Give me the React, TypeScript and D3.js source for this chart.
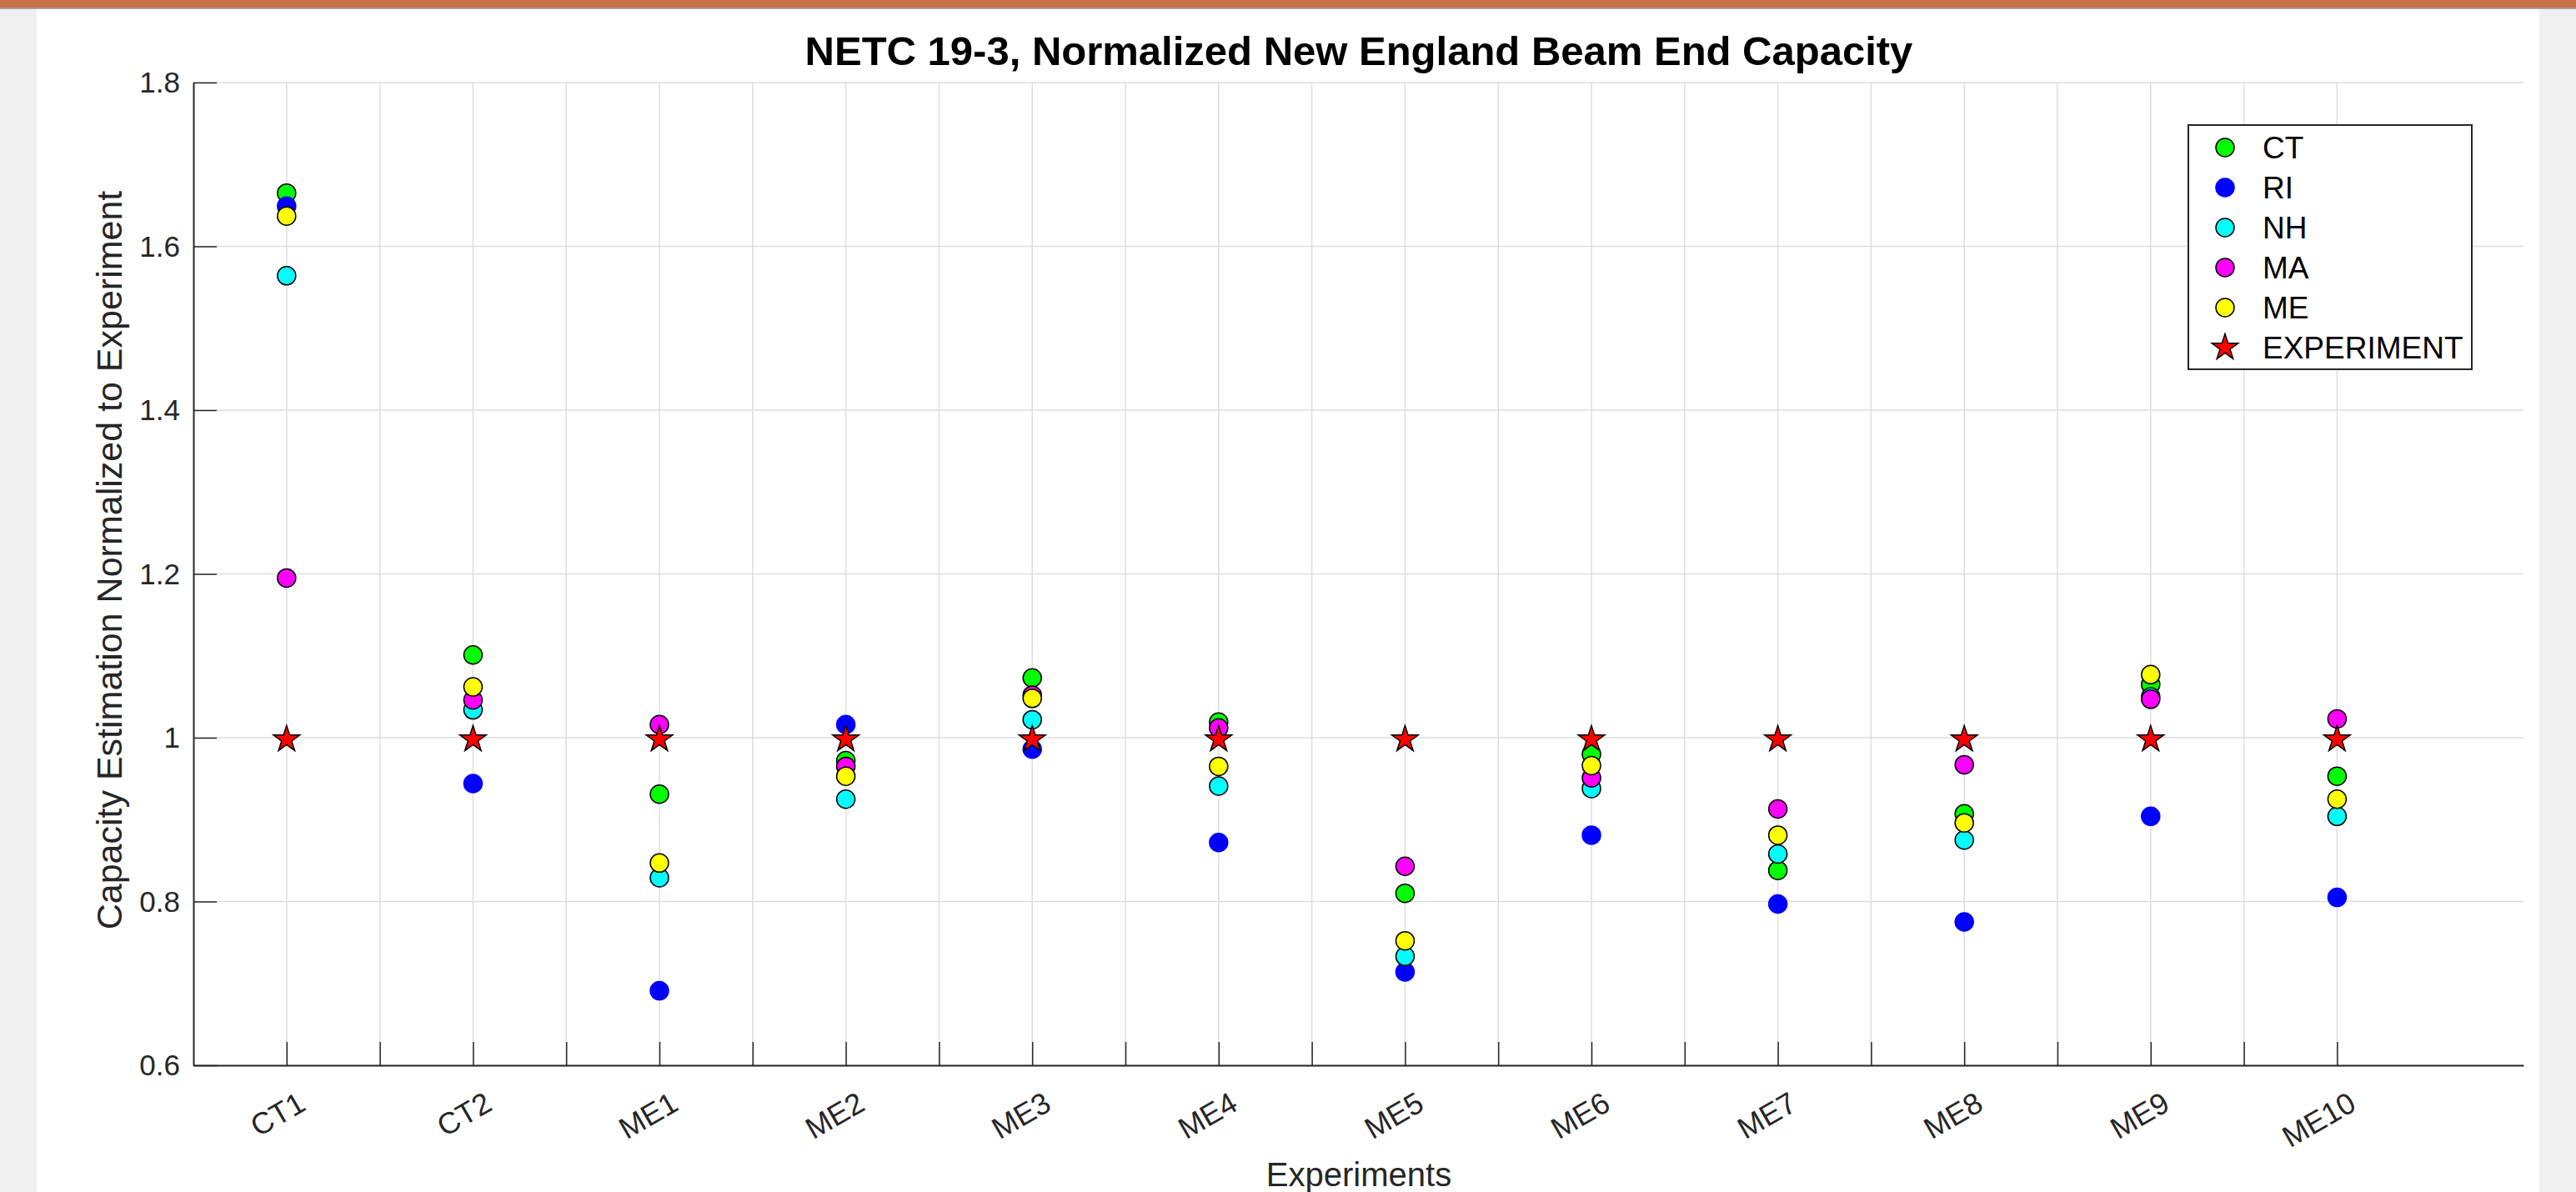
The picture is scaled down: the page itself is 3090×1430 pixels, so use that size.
import React, { useEffect, useRef } from 'react';
import * as d3 from 'd3';

const categories = ['CT1', 'CT2', 'ME1', 'ME2', 'ME3', 'ME4', 'ME5', 'ME6', 'ME7', 'ME8', 'ME9', 'ME10'];
const ctValues = [1.665, 1.101, 0.931, 0.972, 1.073, 1.019, 0.810, 0.980, 0.838, 0.907, 1.065, 0.953];
const riValues = [1.649, 0.944, 0.691, 1.016, 0.986, 0.872, 0.714, 0.881, 0.797, 0.775, 0.904, 0.805];
const nhValues = [1.564, 1.034, 0.829, 0.925, 1.022, 0.941, 0.733, 0.938, 0.858, 0.875, 1.050, 0.904];
const maValues = [1.195, 1.046, 1.016, 0.965, 1.052, 1.012, 0.843, 0.951, 0.913, 0.967, 1.047, 1.023];
const meValues = [1.637, 1.062, 0.847, 0.953, 1.048, 0.965, 0.752, 0.966, 0.881, 0.896, 1.077, 0.925];
const experimentValues = [1, 1, 1, 1, 1, 1, 1, 1, 1, 1, 1, 1];
const yTicks = [0.6, 0.8, 1, 1.2, 1.4, 1.6, 1.8];

const series = [
  { name: 'CT', values: ctValues, fill: '#00ff00', stroke: '#000' },
  { name: 'RI', values: riValues, fill: '#0000ff', stroke: '#0000ff' },
  { name: 'NH', values: nhValues, fill: '#00ffff', stroke: '#000' },
  { name: 'MA', values: maValues, fill: '#ff00ff', stroke: '#000' },
  { name: 'ME', values: meValues, fill: '#ffff00', stroke: '#000' },
];

const FONT = '"Liberation Sans", Arial, Helvetica, sans-serif';

const App = () => {
  const svgRef = useRef<SVGSVGElement>(null);

  useEffect(() => {
    const width = 3090;
    const height = 1430;
    const svg = d3.select(svgRef.current).attr('width', width).attr('height', height);
    svg.selectAll('*').remove();

    // page frame
    svg.append('rect').attr('width', width).attr('height', height).attr('fill', '#ffffff');
    svg.append('rect').attr('x', 0).attr('y', 0).attr('width', 44).attr('height', height).attr('fill', '#f0f0f0');
    svg.append('rect').attr('x', 3046).attr('y', 0).attr('width', 44).attr('height', height).attr('fill', '#f0f0f0');
    svg.append('rect').attr('x', 0).attr('y', 0).attr('width', width).attr('height', 9).attr('fill', '#c8714b');
    svg.append('rect').attr('x', 0).attr('y', 9).attr('width', width).attr('height', 2).attr('fill', '#a0a0a0');

    const x = d3.scaleLinear().domain([0.5, 13]).range([232, 3027]);
    const y = d3.scaleLinear().domain([0.6, 1.8]).range([1278, 99]);
    const xTicks = d3.range(1, 12.01, 0.5);
    const tickLen = 28;

    // grid
    const grid = svg.append('g').attr('stroke', '#dedede').attr('stroke-width', 1.5);
    grid.selectAll('.vg').data(xTicks).enter().append('line')
      .attr('x1', d => x(d)).attr('x2', d => x(d))
      .attr('y1', y(1.8)).attr('y2', y(0.6));
    grid.selectAll('.hg').data(yTicks).enter().append('line')
      .attr('x1', x(0.5)).attr('x2', x(13))
      .attr('y1', d => y(d)).attr('y2', d => y(d));

    // axes
    const axisColor = '#262626';
    const xAxis = d3.axisBottom(x).tickValues(xTicks).tickSizeInner(-tickLen).tickSizeOuter(0).tickFormat(() => '');
    const gx = svg.append('g').attr('transform', `translate(0,${y(0.6)})`).call(xAxis);
    gx.select('.domain').attr('stroke', axisColor).attr('stroke-width', 2);
    gx.selectAll('.tick line').attr('stroke', axisColor).attr('stroke-width', 1.5);

    const yAxis = d3.axisLeft(y).tickValues(yTicks).tickSizeInner(-tickLen).tickSizeOuter(0).tickFormat(() => '');
    const gy = svg.append('g').attr('transform', `translate(${x(0.5)},0)`).call(yAxis);
    gy.select('.domain').attr('stroke', axisColor).attr('stroke-width', 2);
    gy.selectAll('.tick line').attr('stroke', axisColor).attr('stroke-width', 1.5);

    // y tick labels
    svg.append('g').selectAll('text').data(yTicks).enter().append('text')
      .attr('x', x(0.5) - 16)
      .attr('y', d => y(d) + 12)
      .attr('text-anchor', 'end')
      .attr('font-family', FONT).attr('font-size', 35).attr('fill', axisColor)
      .text(d => d3.format('~g')(d));

    // x tick labels, rotated
    svg.append('g').selectAll('text').data(categories).enter().append('text')
      .attr('transform', (d, i) => `translate(${x(i + 1) + 12},${y(0.6) + 30}) rotate(-30)`)
      .attr('text-anchor', 'end')
      .attr('dy', '0.72em')
      .attr('font-family', FONT).attr('font-size', 36).attr('fill', axisColor)
      .text(d => d);

    // points
    const circle = d3.symbol().type(d3.symbolCircle).size(Math.PI * 11 * 11);
    const star = d3.symbol().type(d3.symbolStar).size(310);
    const pts = svg.append('g');
    series.forEach(s => {
      pts.append('g').selectAll('path').data(s.values).enter().append('path')
        .attr('d', circle)
        .attr('transform', (d, i) => `translate(${x(i + 1)},${y(d)})`)
        .attr('fill', s.fill).attr('stroke', s.stroke).attr('stroke-width', 1.5);
    });
    pts.append('g').selectAll('path').data(experimentValues).enter().append('path')
      .attr('d', star)
      .attr('transform', (d, i) => `translate(${x(i + 1)},${y(d) + 2})`)
      .attr('fill', '#ff0000').attr('stroke', '#000').attr('stroke-width', 1.5);

    // title and labels
    svg.append('text')
      .attr('x', 1630).attr('y', 78)
      .attr('text-anchor', 'middle')
      .attr('font-family', FONT).attr('font-size', 49).attr('font-weight', 'bold').attr('fill', '#000')
      .text('NETC 19-3, Normalized New England Beam End Capacity');

    svg.append('text')
      .attr('x', 1630).attr('y', 1423)
      .attr('text-anchor', 'middle')
      .attr('font-family', FONT).attr('font-size', 40).attr('fill', axisColor)
      .text('Experiments');

    svg.append('text')
      .attr('transform', `translate(146,672) rotate(-90)`)
      .attr('text-anchor', 'middle')
      .attr('font-family', FONT).attr('font-size', 43).attr('fill', axisColor)
      .text('Capacity Estimation Normalized to Experiment');

    // legend
    const legend = svg.append('g');
    legend.append('rect')
      .attr('x', 2625).attr('y', 150).attr('width', 340).attr('height', 293)
      .attr('fill', '#fff').attr('stroke', '#262626').attr('stroke-width', 2);
    const items = [
      ...series.map(s => ({ name: s.name, fill: s.fill, stroke: s.stroke, shape: circle })),
      { name: 'EXPERIMENT', fill: '#ff0000', stroke: '#000', shape: star },
    ];
    items.forEach((it, i) => {
      const cy = 177 + i * 48;
      legend.append('path')
        .attr('d', it.shape)
        .attr('transform', `translate(2669,${cy})`)
        .attr('fill', it.fill).attr('stroke', it.stroke).attr('stroke-width', 1.5);
      legend.append('text')
        .attr('x', 2714).attr('y', cy + 13)
        .attr('font-family', FONT).attr('font-size', 37).attr('fill', '#000')
        .text(it.name);
    });
  }, []);

  return (
    <div>
      <svg ref={svgRef} style={{ position: 'absolute', left: 0, top: 0 }}></svg>
    </div>
  );
};

export default App;
